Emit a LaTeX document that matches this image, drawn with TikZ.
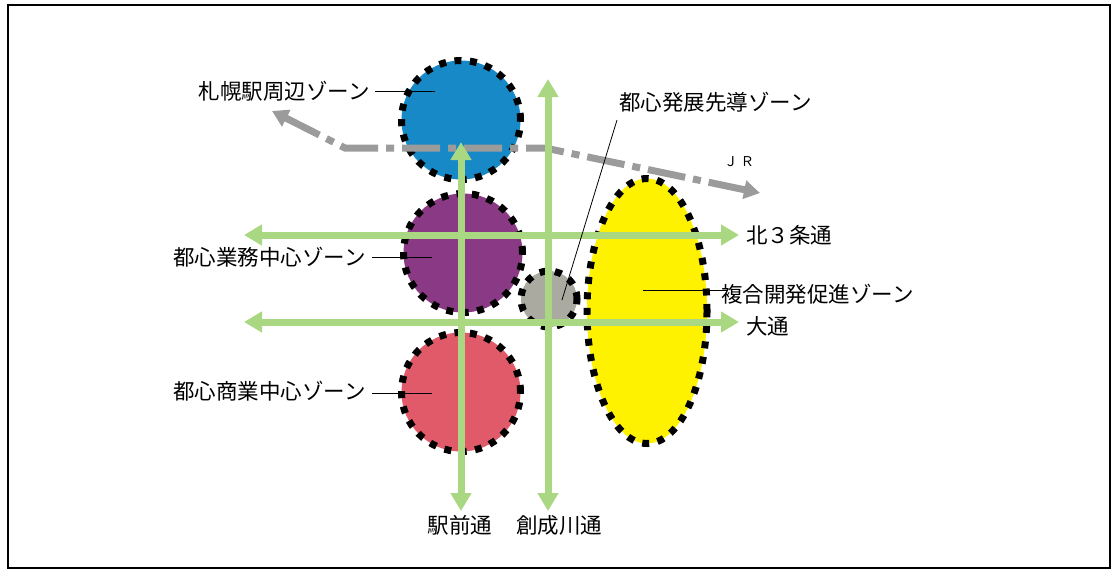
\documentclass[tikz,border=0pt]{standalone}
\usepackage{fontspec}
\setmainfont{Noto Sans CJK JP}
\usetikzlibrary{arrows.meta,shapes.geometric}
\definecolor{zblue}{RGB}{22,137,198}
\definecolor{zpurple}{RGB}{138,58,132}
\definecolor{zred}{RGB}{224,90,106}
\definecolor{zgray}{RGB}{170,170,160}
\definecolor{zyellow}{RGB}{255,242,0}
\definecolor{roadgreen}{RGB}{170,215,130}
\definecolor{jrgray}{RGB}{155,155,155}
\tikzset{
  zone/.style={draw=black, line width=7pt, dash pattern=on 7pt off 8.5pt, inner sep=0pt},
  road/.style={draw=roadgreen, line width=7pt, {Triangle[width=20pt,length=18pt]}-{Triangle[width=20pt,length=18pt]}},
  rail/.style={draw=jrgray, line width=7pt, dash pattern=on 38pt off 8pt on 8pt off 8pt, {Triangle[width=18pt,length=16pt]}-{Triangle[width=18pt,length=16pt]}},
  lbl/.style={font=\fontsize{21.5}{23}\selectfont, inner sep=1pt},
  leader/.style={draw=black, line width=0.8pt}
}
\begin{document}
\begin{tikzpicture}[x=1pt,y=-1pt]
\useasboundingbox (0,0) rectangle (1118,576);
\draw[line width=2pt] (8,5) rectangle (1110,568);
% zones
\node[zone, circle, fill=zblue, minimum size=119pt] (blue) at (461,120) {};
\node[zone, circle, fill=zpurple, minimum size=119pt] (purple) at (463,253) {};
\node[zone, circle, fill=zred, minimum size=119pt] (red) at (461,392) {};
\node[zone, circle, fill=zgray, minimum size=56pt] (gray) at (549,299) {};
\node[zone, ellipse, fill=zyellow, minimum width=120pt, minimum height=265pt] (yellow) at (647,311) {};
% JR line
\coordinate (jrA) at (272,111);
\coordinate (jrB) at (345,148);
\coordinate (jrC) at (545,148);
\coordinate (jrD) at (760,193);
\draw[rail] (jrA) -- (jrB) -- (jrC) -- (jrD);
% roads
\coordinate (ekiT) at (461,142);
\coordinate (ekiB) at (461,511);
\coordinate (soT) at (548,79);
\coordinate (soB) at (548,511);
\coordinate (kitaL) at (244,235);
\coordinate (kitaR) at (739,235);
\coordinate (odoL) at (244,322);
\coordinate (odoR) at (739,322);
\draw[road] (ekiT) -- (ekiB);
\draw[road] (soT) -- (soB);
\draw[road] (kitaL) -- (kitaR);
\draw[road] (odoL) -- (odoR);
% labels
\node[lbl, anchor=east] (l1) at (371,91) {札幌駅周辺ゾーン};
\coordinate (p1) at (435,91);
\draw[leader] (375,91) -- (p1);
\node[lbl, anchor=east] (l2) at (367,257) {都心業務中心ゾーン};
\coordinate (p2) at (432,257);
\draw[leader] (372,257) -- (p2);
\node[lbl, anchor=east] (l3) at (367,391) {都心商業中心ゾーン};
\coordinate (p3) at (432,393);
\draw[leader] (372,393) -- (p3);
\node[lbl, anchor=west] (l4) at (618,102) {都心発展先導ゾーン};
\coordinate (p4) at (562,300);
\draw[leader] (617,120) -- (p4);
\node[lbl, anchor=west] (l5) at (720,294) {複合開発促進ゾーン};
\coordinate (p5) at (643,290);
\draw[leader] (728,290) -- (p5);
\node[lbl, anchor=west] (l6) at (745,235) {北３条通};
\node[lbl, anchor=west] (l7) at (745,326) {大通};
\node[font=\fontsize{13.5}{15}\selectfont, anchor=west, inner sep=1pt] (l8) at (723,162) {Ｊ Ｒ};
\node[lbl] (l9) at (460,525) {駅前通};
\node[lbl] (l10) at (559,525) {創成川通};
\end{tikzpicture}
\end{document}
